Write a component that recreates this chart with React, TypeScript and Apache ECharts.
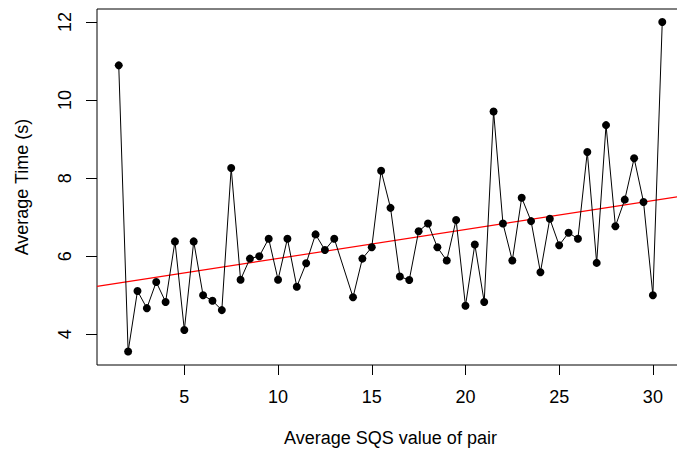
import React, { useEffect, useRef } from "react";
import * as echarts from "echarts";

// Data
const X_VALUES = [
  1.5, 2, 2.5, 3, 3.5, 4, 4.5, 5, 5.5, 6, 6.5, 7, 7.5, 8, 8.5, 9, 9.5, 10, 10.5, 11,
  11.5, 12, 12.5, 13, 14, 14.5, 15, 15.5, 16, 16.5, 17, 17.5, 18, 18.5, 19, 19.5, 20,
  20.5, 21, 21.5, 22, 22.5, 23, 23.5, 24, 24.5, 25, 25.5, 26, 26.5, 27, 27.5, 28, 28.5,
  29, 29.5, 30, 30.5,
];
const Y_VALUES = [
  10.89, 3.56, 5.11, 4.67, 5.34, 4.83, 6.38, 4.11, 6.38, 5.0, 4.86, 4.62, 8.26, 5.4,
  5.94, 6.0, 6.45, 5.4, 6.45, 5.22, 5.82, 6.56, 6.16, 6.45, 4.95, 5.94, 6.23, 8.19, 7.24,
  5.48, 5.39, 6.64, 6.84, 6.23, 5.89, 6.93, 4.73, 6.3, 4.83, 9.71, 6.84, 5.89, 7.5, 6.9,
  5.59, 6.96, 6.28, 6.6, 6.45, 8.67, 5.83, 9.36, 6.77, 7.45, 8.51, 7.39, 5.0, 12.0,
];
// Fitted regression line (abline)
const REG_INTERCEPT = 5.201;
const REG_SLOPE = 0.07415;

const X_TICKS = [5, 10, 15, 20, 25, 30];
const Y_TICKS = [4, 6, 8, 10, 12];

const X_LABEL = "Average SQS value of pair";
const Y_LABEL = "Average Time (s)";

// Axis extents (R's 4% padding)
const X_MIN = 0.34;
const X_MAX = 31.66;
const Y_MIN = 3.214;
const Y_MAX = 12.334;

const FONT = "Liberation Sans, Arial, Helvetica, sans-serif";

export default function App() {
  const ref = useRef<HTMLDivElement>(null);

  useEffect(() => {
    if (!ref.current) return;
    const chart = echarts.init(ref.current, undefined, { renderer: "svg" });
    const points = X_VALUES.map((x, i) => [x, Y_VALUES[i]]);
    const regLine = [X_MIN, X_MAX].map((x) => [x, REG_INTERCEPT + REG_SLOPE * x]);

    chart.setOption({
      animation: false,
      backgroundColor: "#ffffff",
      grid: {
        left: 97,
        top: 9,
        width: 587,
        height: 356,
        show: true,
        borderColor: "#000",
        borderWidth: 1,
        containLabel: false,
        outerBoundsMode: "none",
      },
      xAxis: {
        type: "value",
        min: X_MIN,
        max: X_MAX,
        name: X_LABEL,
        nameLocation: "middle",
        nameGap: 64,
        nameTextStyle: { color: "#000", fontSize: 18, fontFamily: FONT },
        axisLine: { show: false },
        splitLine: { show: false },
        axisTick: {
          show: true,
          length: 10,
          customValues: X_TICKS,
          lineStyle: { color: "#000", width: 1 },
        },
        axisLabel: {
          customValues: X_TICKS,
          color: "#000",
          fontSize: 18,
          fontFamily: FONT,
          margin: 23,
        },
      },
      yAxis: {
        type: "value",
        min: Y_MIN,
        max: Y_MAX,
        name: Y_LABEL,
        nameLocation: "middle",
        nameGap: 66,
        nameTextStyle: { color: "#000", fontSize: 18, fontFamily: FONT },
        axisLine: { show: false },
        splitLine: { show: false },
        axisTick: {
          show: true,
          length: 11,
          customValues: Y_TICKS,
          lineStyle: { color: "#000", width: 1 },
        },
        axisLabel: {
          customValues: Y_TICKS,
          color: "#000",
          fontSize: 18,
          fontFamily: FONT,
          rotate: 90,
          margin: 23,
        },
      },
      series: [
        {
          type: "line",
          data: regLine,
          symbol: "none",
          lineStyle: { color: "#ff0000", width: 1.2 },
          silent: true,
          z: 1,
        },
        {
          type: "line",
          data: points,
          symbol: "circle",
          symbolSize: 8,
          itemStyle: { color: "#000" },
          lineStyle: { color: "#000", width: 1 },
          z: 2,
        },
      ],
    });
    return () => chart.dispose();
  }, []);

  return (
    <div
      ref={ref}
      style={{ position: "absolute", left: 0, top: 0, width: 677, height: 452, background: "#fff" }}
    />
  );
}
